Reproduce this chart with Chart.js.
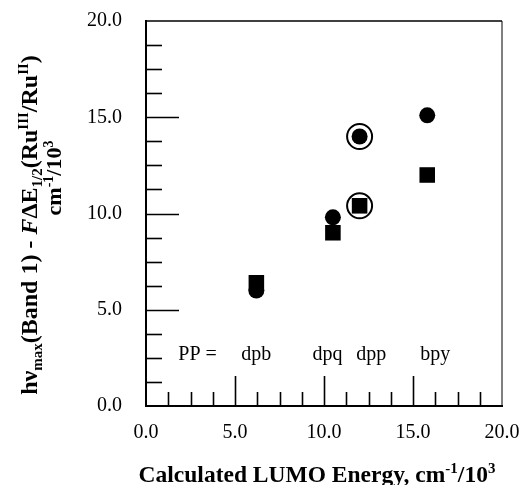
<!DOCTYPE html>
<html>
<head>
<meta charset="utf-8">
<script src="https://cdn.jsdelivr.net/npm/chart.js@4"></script>
<style>
  html, body { margin: 0; padding: 0; background: #fff; }
  #wrap { width: 519px; height: 485px; }
</style>
</head>
<body>
<div id="wrap"><canvas id="chart" width="519" height="485"></canvas></div>
<script>
// LUMO energy (x) for each PP ligand
const ligands = ['dpb', 'dpq', 'dpp', 'bpy'];
const lumoX = [6.2, 10.5, 12.0, 15.8];
const circleY = [6.0, 9.8, 14.0, 15.1];
const squareY = [6.4, 9.0, 10.4, 12.0];
// the dpp points are ringed
const ringedIdx = [2];

// "PP = dpb dpq dpp bpy" row of labels
const ppText = ['PP =', 'dpb', 'dpq', 'dpp', 'bpy'];
const ppTextX = [2.9, 6.2, 10.2, 12.65, 16.25];
const ppTextY = 2.4;

const xMin = 0, xMax = 20, yMin = 0, yMax = 20;
const majorStep = 5, minorStep = 1.25;

const SERIF = '"Liberation Serif", "Times New Roman", serif';

const pts = (ys, idx) => (idx || ys.map((_, i) => i)).map(i => ({ x: lumoX[i], y: ys[i] }));

const xTitle = [{ t: 'Calculated LUMO Energy, cm' }, { t: '-1', sup: true }, { t: '/10' }, { t: '3', sup: true }];
const yTitle1 = [
    { t: 'h\u03bd' }, { t: 'max', sub: true }, { t: '(Band 1) - ' }, { t: 'F', it: true },
    { t: '\u0394E' }, { t: '1/2', sub: true }, { t: '(Ru' }, { t: 'III', sup: true },
    { t: '/Ru' }, { t: 'II', sup: true }, { t: ')' }
];
const yTitle2 = [{ t: 'cm' }, { t: '-1', sup: true }, { t: '/10' }, { t: '3', sup: true }];

function segFont(s, size) {
    const sz = (s.sub || s.sup) ? Math.round(size * 0.62) : size;
    return (s.it ? 'italic ' : '') + 'bold ' + sz + 'px ' + SERIF;
}

// draw a line of text with sub/superscripts, centred on (cx, baseline)
function richText(ctx, segs, cx, by, size) {
    let w = 0;
    segs.forEach(s => { ctx.font = segFont(s, size); w += ctx.measureText(s.t).width; });
    let x = cx - w / 2;
    ctx.textAlign = 'left';
    ctx.textBaseline = 'alphabetic';
    segs.forEach(s => {
        ctx.font = segFont(s, size);
        let dy = 0;
        if (s.sub) dy = size * 0.22;
        if (s.sup) dy = -size * 0.38;
        ctx.fillText(s.t, x, by + dy);
        x += ctx.measureText(s.t).width;
    });
}

function rotatedText(ctx, segs, x, y, size) {
    ctx.save();
    ctx.translate(x, y);
    ctx.rotate(-Math.PI / 2);
    richText(ctx, segs, 0, 0, size);
    ctx.restore();
}

const decorPlugin = {
    id: 'decor',
    afterDraw(chart) {
        const ctx = chart.ctx;
        const xs = chart.scales.x, ys = chart.scales.y;
        const a = chart.chartArea;
        ctx.save();
        ctx.strokeStyle = '#000';
        ctx.fillStyle = '#000';

        // frame: top and right edges (left / bottom come from the scale borders)
        ctx.lineWidth = 1.5;
        ctx.beginPath();
        ctx.moveTo(a.left, a.top); ctx.lineTo(a.right, a.top);
        ctx.stroke();
        ctx.lineWidth = 1;
        ctx.beginPath();
        ctx.moveTo(a.right, a.top); ctx.lineTo(a.right, a.bottom);
        ctx.stroke();

        // inward tick marks
        ctx.lineWidth = 1.6;
        for (let v = xMin + minorStep; v < xMax; v += minorStep) {
            const px = Math.round(xs.getPixelForValue(v)) + 0.5;
            const len = (Math.abs(v % majorStep) < 1e-6) ? 30 : 14;
            ctx.beginPath();
            ctx.moveTo(px, a.bottom); ctx.lineTo(px, a.bottom - len);
            ctx.stroke();
        }
        for (let v = yMin + minorStep; v < yMax; v += minorStep) {
            const py = Math.round(ys.getPixelForValue(v)) + 0.5;
            const len = (Math.abs(v % majorStep) < 1e-6) ? 33 : 16;
            ctx.beginPath();
            ctx.moveTo(a.left, py); ctx.lineTo(a.left + len, py);
            ctx.stroke();
        }

        // PP = ... labels
        ctx.font = '20px ' + SERIF;
        ctx.textAlign = 'center';
        ctx.textBaseline = 'alphabetic';
        ppText.forEach((t, i) => {
            ctx.fillText(t, xs.getPixelForValue(ppTextX[i]), ys.getPixelForValue(ppTextY));
        });

        // axis titles
        richText(ctx, xTitle, 317, 482, 23.5);
        rotatedText(ctx, yTitle1, 37, 225, 24);
        rotatedText(ctx, yTitle2, 61, 178, 22);
        ctx.restore();
    }
};

new Chart(document.getElementById('chart'), {
    type: 'scatter',
    data: {
        datasets: [
            {
                label: 'squares',
                data: pts(squareY),
                pointStyle: 'rect',
                pointRadius: 11,
                backgroundColor: '#000',
                borderWidth: 0
            },
            {
                label: 'circles',
                data: pts(circleY),
                pointStyle: 'circle',
                pointRadius: 8,
                backgroundColor: '#000',
                borderWidth: 0
            },
            {
                label: 'rings',
                data: pts(circleY, ringedIdx).concat(pts(squareY, ringedIdx)),
                pointStyle: 'circle',
                pointRadius: 12.5,
                backgroundColor: 'rgba(0,0,0,0)',
                borderColor: '#000',
                borderWidth: 2
            }
        ]
    },
    options: {
        responsive: false,
        animation: false,
        layout: { padding: { top: 21, right: 17, left: 0, bottom: 0 } },
        plugins: { legend: { display: false }, tooltip: { enabled: false } },
        scales: {
            x: {
                type: 'linear', min: xMin, max: xMax,
                grid: { display: false, drawTicks: false },
                border: { display: true, color: '#000', width: 2 },
                ticks: {
                    stepSize: majorStep, padding: 15, color: '#000',
                    font: { family: SERIF, size: 20 },
                    callback: v => v.toFixed(1)
                },
                afterFit: s => { s.height = 79; s.paddingLeft = 0; s.paddingRight = 0; }
            },
            y: {
                type: 'linear', min: yMin, max: yMax,
                grid: { display: false, drawTicks: false },
                border: { display: true, color: '#000', width: 2 },
                ticks: {
                    stepSize: majorStep, padding: 24, color: '#000',
                    font: { family: SERIF, size: 20 },
                    callback: v => v.toFixed(1)
                },
                afterFit: s => { s.width = 146; s.paddingTop = 0; s.paddingBottom = 0; }
            }
        }
    },
    plugins: [decorPlugin]
});
</script>
</body>
</html>
